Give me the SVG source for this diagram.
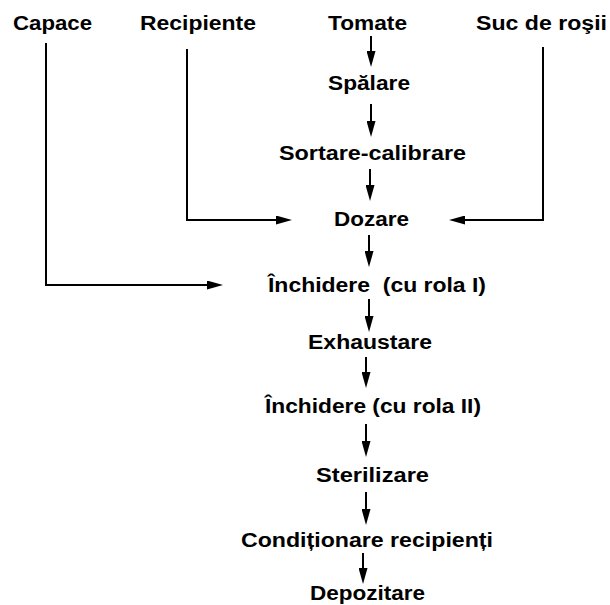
<svg xmlns="http://www.w3.org/2000/svg" width="610" height="605" viewBox="0 0 610 605">
<style>
  .t{font-family:"Liberation Sans",Arial,sans-serif;font-weight:bold;font-size:20px;fill:#000}
  .c{fill:none;stroke:#000;stroke-width:2}
</style>
<defs>
  <marker id="ah" viewBox="0 0 16 9" refX="10" refY="4.5" markerWidth="16" markerHeight="9" markerUnits="userSpaceOnUse" orient="auto">
    <path d="M0,0 L16,4.5 L0,9 Z" fill="#000"/>
  </marker>
</defs>
<rect width="610" height="605" fill="#fff"/>
<g id="connectors">
  <path class="c" d="M46,43 V285 H217" marker-end="url(#ah)"/>
  <path class="c" d="M187,49 V220 H286" marker-end="url(#ah)"/>
  <path class="c" d="M543,47 V220 H455" marker-end="url(#ah)"/>
  <path class="c" d="M371,36 V61" marker-end="url(#ah)"/>
  <path class="c" d="M371,104 V131" marker-end="url(#ah)"/>
  <path class="c" d="M370,169 V195" marker-end="url(#ah)"/>
  <path class="c" d="M369,235 V261" marker-end="url(#ah)"/>
  <path class="c" d="M369,299 V326" marker-end="url(#ah)"/>
  <path class="c" d="M366,357 V382" marker-end="url(#ah)"/>
  <path class="c" d="M366,424 V451" marker-end="url(#ah)"/>
  <path class="c" d="M366,492 V519" marker-end="url(#ah)"/>
  <path class="c" d="M363,553 V578" marker-end="url(#ah)"/>
</g>
<g id="capace"><text class="t" x="13" y="30" textLength="79" lengthAdjust="spacingAndGlyphs">Capace</text></g>
<g id="recipiente"><text class="t" x="140" y="30" textLength="116" lengthAdjust="spacingAndGlyphs">Recipiente</text></g>
<g id="tomate"><text class="t" x="328" y="30" textLength="79" lengthAdjust="spacingAndGlyphs">Tomate</text></g>
<g id="suc"><text class="t" x="476" y="30" textLength="131" lengthAdjust="spacingAndGlyphs">Suc de roşii</text></g>
<g id="spalare"><text class="t" x="328" y="90" textLength="82" lengthAdjust="spacingAndGlyphs">Spălare</text></g>
<g id="sortare"><text class="t" x="279" y="160" textLength="187" lengthAdjust="spacingAndGlyphs">Sortare-calibrare</text></g>
<g id="dozare"><text class="t" x="334" y="225.5" textLength="75" lengthAdjust="spacingAndGlyphs">Dozare</text></g>
<g id="inchidere1"><text class="t" x="268" y="291.5" textLength="218" lengthAdjust="spacingAndGlyphs" xml:space="preserve">Închidere  (cu rola I)</text></g>
<g id="exhaustare"><text class="t" x="308" y="349" textLength="124" lengthAdjust="spacingAndGlyphs">Exhaustare</text></g>
<g id="inchidere2"><text class="t" x="265" y="413" textLength="216" lengthAdjust="spacingAndGlyphs">Închidere (cu rola II)</text></g>
<g id="sterilizare"><text class="t" x="316" y="481.5" textLength="113" lengthAdjust="spacingAndGlyphs">Sterilizare</text></g>
<g id="conditionare"><text class="t" x="241" y="546.5" textLength="252" lengthAdjust="spacingAndGlyphs">Condiționare recipienți</text></g>
<g id="depozitare"><text class="t" x="310" y="600" textLength="115" lengthAdjust="spacingAndGlyphs">Depozitare</text></g>
</svg>
